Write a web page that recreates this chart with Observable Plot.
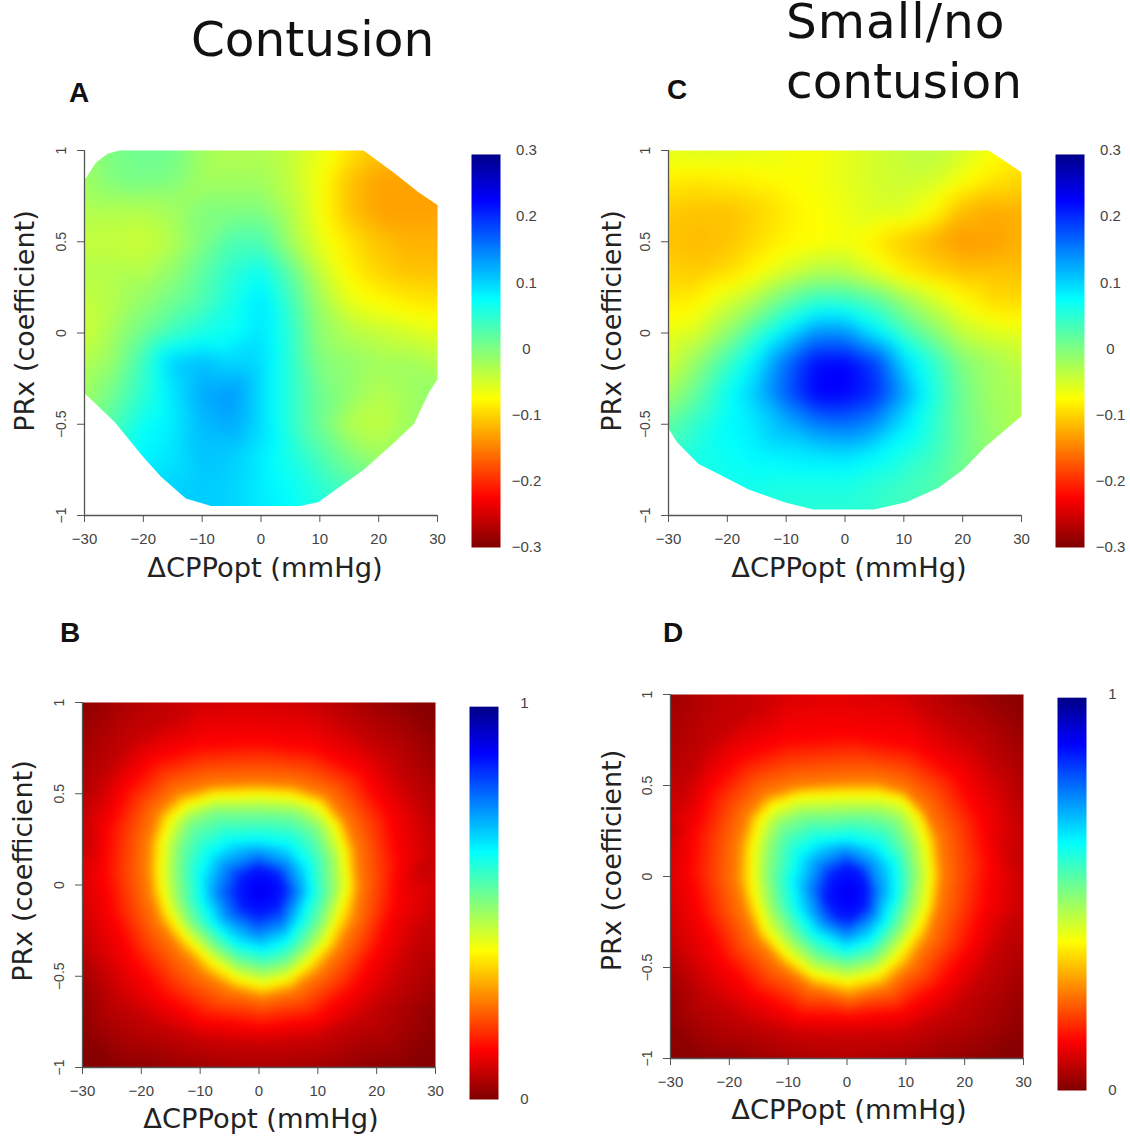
<!DOCTYPE html>
<html><head><meta charset="utf-8">
<script src="https://cdn.jsdelivr.net/npm/d3@7"></script>
<script src="https://cdn.jsdelivr.net/npm/@observablehq/plot@0.6"></script>
<style>
html,body{margin:0;padding:0;background:#fff}
#page{position:relative;width:1130px;height:1136px;overflow:hidden;background:#fff}
.title{position:absolute;font:48.5px/1 "DejaVu Sans";color:#111;white-space:nowrap}
.tag{position:absolute;font:bold 28px/1 "Liberation Sans";color:#111}
#page svg{position:absolute;overflow:visible}
</style></head><body><div id="page"></div>
<script>
const cppGrid = [-30,-25,-20,-15,-10,-5,0,5,10,15,20,25,30];
const prxGrid = [1,0.833,0.667,0.5,0.333,0.167,0,-0.167,-0.333,-0.5,-0.667,-0.833,-1];

const valuesA = [
 [-.01,.005,.012,.008,-.02,-.03,-.03,-.04,-.06,-.09,-.11,-.12,-.12],
 [-.02,.0,.005,.0,-.02,-.02,-.02,-.04,-.07,-.11,-.13,-.13,-.13],
 [-.03,-.03,-.03,-.02,.0,.0,.0,-.03,-.07,-.11,-.13,-.13,-.13],
 [-.04,-.04,-.045,-.03,.0,.03,.03,-.02,-.06,-.09,-.11,-.12,-.12],
 [-.03,-.03,-.03,-.01,.02,.05,.07,.02,-.04,-.08,-.10,-.11,-.11],
 [-.04,-.03,-.01,.01,.03,.06,.09,.04,-.02,-.06,-.075,-.085,-.09],
 [-.045,-.02,.01,.04,.06,.07,.09,.05,-.01,-.03,-.04,-.05,-.06],
 [-.03,-.01,.04,.105,.115,.10,.095,.05,.0,-.01,-.02,-.02,-.03],
 [-.02,.01,.05,.09,.125,.135,.095,.05,.01,-.01,-.03,-.02,-.01],
 [.0,.03,.07,.085,.115,.125,.095,.05,.01,-.03,-.04,-.02,.0],
 [.02,.05,.08,.09,.11,.105,.085,.06,.03,.0,-.02,-.02,.0],
 [.04,.07,.09,.10,.105,.10,.085,.07,.05,.03,.01,.0,.0],
 [.05,.08,.09,.10,.105,.10,.085,.075,.06,.04,.02,.01,.0]
];
const valuesC = [
 [-.06,-.055,-.055,-.06,-.065,-.07,-.06,-.05,-.04,-.035,-.05,-.07,-.08],
 [-.085,-.09,-.085,-.08,-.075,-.07,-.06,-.05,-.045,-.05,-.07,-.09,-.10],
 [-.105,-.11,-.11,-.10,-.085,-.075,-.065,-.055,-.055,-.075,-.115,-.125,-.12],
 [-.11,-.115,-.11,-.095,-.08,-.075,-.07,-.085,-.105,-.12,-.135,-.13,-.12],
 [-.10,-.105,-.095,-.075,-.05,-.03,-.03,-.055,-.085,-.10,-.11,-.11,-.11],
 [-.085,-.08,-.05,-.02,.02,.05,.05,.03,-.01,-.045,-.075,-.095,-.095],
 [-.065,-.05,-.01,.04,.09,.14,.14,.09,.04,.0,-.04,-.055,-.06],
 [-.05,-.01,.04,.09,.16,.22,.225,.19,.10,.05,.0,-.02,-.04],
 [-.02,.02,.07,.11,.17,.225,.225,.20,.13,.06,.01,-.02,-.03],
 [.02,.05,.075,.09,.12,.15,.16,.14,.09,.05,.01,-.015,-.03],
 [.05,.06,.07,.08,.085,.09,.095,.08,.06,.04,.01,-.01,-.02],
 [.06,.065,.065,.065,.06,.06,.06,.05,.04,.03,.01,.0,-.01],
 [.06,.06,.06,.055,.05,.05,.05,.045,.035,.025,.01,.0,-.01]
];

// Panels B and D: isolines, one list per level, plus the frame edges
const levels = [.07,.125,.25,.375,.5,.625,.75,.85];
const ringsB = [
 [[-29,-.35],[-24,-.62],[-18,-.76],[-9,-.86],[.5,-.88],[10,-.85],[18,-.72],[23,-.55],[27,-.3],[28,.1],[27,.45],[22,.7],[15,.87],[-15,.92],[-22,.78],[-27,.55],[-29.5,.2]],
 [[-.2,.79],[-10,.77],[-17.9,.69],[-22.7,.53],[-25.7,.31],[-26.4,.07],[-25.1,-.15],[-21.5,-.41],[-16.6,-.61],[-10,-.74],[.4,-.78],[9.5,-.74],[16.2,-.57],[20.4,-.35],[23.1,-.1],[23.7,.12],[22.2,.38],[17.4,.62],[9.5,.75]],
 [[-.2,.56],[-8.1,.55],[-13.9,.5],[-17.2,.4],[-18.8,.23],[-19.1,.09],[-18.5,-.06],[-16.9,-.21],[-13.6,-.35],[-9.4,-.49],[-4.5,-.58],[.7,-.62],[5.8,-.58],[10.1,-.48],[13.7,-.34],[16.2,-.19],[17.1,-.01],[16.5,.2],[14.6,.36],[11.3,.49],[5.8,.55]],
 [[-.2,.5],[-7.5,.49],[-12.4,.44],[-15.1,.36],[-16.6,.23],[-16.8,.1],[-16.6,-.02],[-15.4,-.15],[-12.4,-.29],[-8.1,-.42],[-3.9,-.51],[.4,-.55],[4.6,-.52],[8.3,-.43],[11.6,-.31],[13.7,-.16],[15.2,-.01],[14.6,.18],[13.1,.32],[10.1,.44],[5.2,.49]],
 [[-.2,.4],[-7.5,.4],[-11.8,.34],[-13.6,.21],[-13.9,.07],[-13.3,-.08],[-11.5,-.21],[-7.5,-.34],[-3.3,-.43],[.7,-.46],[4.6,-.43],[7.7,-.34],[10.4,-.21],[12.2,-.04],[11.9,.14],[9.8,.31],[5.8,.39]],
 [[-.2,.25],[-5.1,.24],[-8.4,.17],[-10,.05],[-9.7,-.08],[-7.8,-.21],[-3.9,-.32],[.7,-.36],[4.6,-.31],[7,-.2],[8.9,-.04],[8.3,.1],[5.2,.22]],
 [[-.2,.16],[-5.4,.09],[-6.9,-.04],[-5.1,-.17],[-.2,-.26],[4,-.21],[6.4,-.04],[4.6,.1]],
 [[-.2,.09],[-2.7,.05],[-3.6,-.04],[-2.7,-.12],[.1,-.16],[3.1,-.12],[4.3,-.02],[2.8,.06]]
];
const peakB = [.4,-.03,.89];
const topB = [.015,.035,.055,.07,.08,.085,.085,.08,.07,.05,.03,.015,.005];
const bottomB = [.005,.01,.015,.025,.03,.04,.045,.04,.035,.025,.015,.01,.005];
const leftB = [.03,.04,.05,.07,.085,.09,.08,.06,.035,.02,.01];
const rightB = [.015,.03,.05,.06,.07,.08,.07,.06,.04,.02,.01];

const ringsD = [
 [[-29,-.4],[-24,-.65],[-17,-.79],[-8,-.88],[.5,-.89],[10,-.87],[18,-.74],[23,-.55],[27,-.3],[28.5,.1],[27,.5],[22,.72],[15,.89],[-16,.93],[-23,.75],[-27.5,.5],[-29.5,.25]],
 [[0,.78],[-10.6,.75],[-18.5,.65],[-23.3,.48],[-26,.24],[-26.7,.02],[-25.1,-.2],[-21.5,-.45],[-16,-.64],[-8.1,-.77],[.4,-.78],[9.5,-.75],[16.2,-.6],[21,-.38],[23.4,-.16],[24.3,.06],[22.8,.32],[18.6,.56],[11.3,.72]],
 [[0,.52],[-8.7,.5],[-13.9,.45],[-16.9,.34],[-18.5,.17],[-18.8,-.01],[-17.5,-.18],[-15.4,-.34],[-11.2,-.49],[-5.7,-.61],[.4,-.66],[6.4,-.61],[10.7,-.49],[13.7,-.34],[15.5,-.16],[16.2,.01],[15.5,.21],[13.1,.37],[9.5,.48],[5.2,.52]],
 [[0,.45],[-8.1,.44],[-12.4,.39],[-14.8,.31],[-16,.17],[-16.2,.01],[-15.7,-.12],[-13.9,-.29],[-10.6,-.42],[-5.7,-.54],[0,-.58],[5.2,-.54],[8.9,-.43],[11.9,-.29],[13.7,-.16],[14.3,.01],[13.7,.17],[12.2,.32],[9.5,.42],[5.2,.45]],
 [[0,.34],[-7.5,.33],[-11.2,.28],[-12.7,.17],[-13.3,.01],[-12.4,-.16],[-9.7,-.31],[-5.1,-.45],[0,-.49],[4.6,-.45],[7.7,-.34],[10.4,-.16],[11.3,.01],[10.4,.17],[8.3,.3],[4.6,.34]],
 [[0,.21],[-5.1,.19],[-8.1,.12],[-9.4,-.03],[-8.4,-.18],[-5.7,-.31],[-.2,-.4],[4,-.35],[6.4,-.25],[8.3,-.1],[8,.06],[5.2,.17]],
 [[-.2,.13],[-4.5,.06],[-6,-.07],[-4.8,-.2],[-.2,-.31],[3.4,-.24],[5.2,-.09],[3.7,.06]],
 [[-.2,.05],[-2.7,0],[-3.6,-.12],[-1.8,-.21],[.7,-.23],[3.1,-.16],[3.4,-.05],[1.9,.03]]
];
const peakD = [.2,-.1,.89];
const topD = [.03,.05,.065,.08,.09,.095,.095,.09,.08,.06,.04,.02,.01];
const bottomD = [.01,.015,.02,.03,.04,.05,.055,.05,.04,.03,.02,.01,.005];
const leftD = [.04,.05,.065,.08,.085,.09,.085,.07,.045,.025,.015];
const rightD = [.02,.035,.045,.06,.065,.07,.07,.06,.04,.025,.015];

// Edges of the sampled region (outside them the surface is not drawn)
const upperA = [[-30,.83],[-28,.93],[-26,.98],[-23.7,1],[17.4,1],[22.5,.88],[26.8,.77],[30,.70]];
const lowerA = [[-30,-.33],[-24.8,-.49],[-20,-.68],[-16.9,-.79],[-12.7,-.91],[-8.4,-.95],[6.7,-.95],[9.8,-.93],[17.6,-.75],[22.5,-.61],[26.1,-.5],[28.6,-.33],[30,-.26]];
const upperC = [[-30,1],[24.4,1],[27.7,.93],[30,.88]];
const lowerC = [[-30,-.52],[-28.5,-.6],[-24.8,-.72],[-20.5,-.79],[-16.3,-.86],[-10.2,-.93],[-5.3,-.97],[5,-.97],[10.5,-.93],[16,-.85],[20.2,-.75],[23.8,-.63],[30,-.46]];

const jetStops = [0,.125,.375,.5,.625,.875,1];
const jetColors = ["#7f0000","#ff0000","#ffff00","#80ff80","#00ffff","#0000ff","#00007f"];
const xTicks = [-30,-20,-10,0,10,20,30];
const yTicks = [-1,-.5,0,.5,1];
const diffTicks = [-.3,-.2,-.1,0,.1,.2,.3];
const probTicks = [0,1];
const xLabel = "ΔCPPopt (mmHg)";
const yLabel = "PRx (coefficient)";
const titles = [["Contusion",191,15,0],["Small/no",786,-3,1],["contusion",786,57,0]];
const tags = [["A",69,79],["B",60,619],["C",667,76],["D",663,619]];

const minus = d => String(d).replace("-", "\u2212");
const page = document.getElementById("page");

function gridPts(grid){
  const out = [];
  grid.forEach((row,j)=>row.forEach((v,i)=>out.push({x:cppGrid[i],y:prxGrid[j],v})));
  return out;
}
function ringPts(rings,peak,top,bottom,left,right){
  const out = [];
  rings.forEach((r,k)=>r.forEach(([x,y])=>out.push({x,y,v:levels[k]})));
  out.push({x:peak[0],y:peak[1],v:peak[2]});
  cppGrid.forEach((x,i)=>{out.push({x,y:1,v:top[i]});out.push({x,y:-1,v:bottom[i]});});
  prxGrid.slice(1,-1).forEach((y,j)=>{out.push({x:-30,y,v:left[j]});out.push({x:30,y,v:right[j]});});
  return out;
}
function scaleFor(lo,hi){
  return {type:"linear",domain:jetStops.map(t=>lo+(hi-lo)*t),range:jetColors,clamp:true};
}
const M = {l:70,r:10,t:10,b:70};

function panel(o){
  const marks = [
    Plot.raster(o.points,{x:"x",y:"y",fill:"v",interpolate:"barycentric",pixelSize:1,blur:o.blur,
      x1:-30,x2:30,y1:-1,y2:1})
  ];
  const widen = e => [[-31,e[0][1]],...e,[31,e[e.length-1][1]]];
  if(o.upper) marks.push(Plot.areaY(widen(o.upper),{x:d=>d[0],y1:d=>d[1],y2:()=>1.02,fill:"white"}));
  if(o.lower) marks.push(Plot.areaY(widen(o.lower),{x:d=>d[0],y1:d=>d[1],y2:()=>-1,fill:"white"}));
  marks.push(
    Plot.ruleY([-1],{stroke:"#555",strokeWidth:1.3}),
    Plot.ruleX([-30],{stroke:"#555",strokeWidth:1.3}),
    Plot.axisX({ticks:xTicks,tickFormat:minus,tickSize:7,tickPadding:11,fontSize:15,stroke:"#555",fill:"#444",label:null}),
    Plot.axisY({ticks:yTicks,tickFormat:minus,tickSize:7,tickPadding:12,fontSize:14,tickRotate:-90,stroke:"#555",fill:"#444",label:null}),
    Plot.text([xLabel],{frameAnchor:"bottom",lineAnchor:"middle",dy:o.xdy,dx:o.xdx,fontSize:27.3,fontFamily:"DejaVu Sans",fill:"#222"}),
    Plot.text([yLabel],{frameAnchor:"left",textAnchor:"middle",rotate:-90,lineAnchor:"middle",dx:o.ydx,dy:o.ydy,fontSize:27,fontFamily:"DejaVu Sans",fill:"#222"})
  );
  const svg = Plot.plot({
    width:353+M.l+M.r,height:o.h+M.t+M.b,
    marginLeft:M.l,marginRight:M.r,marginTop:M.t,marginBottom:M.b,
    x:{domain:[-30,30]},y:{domain:[-1,1]},
    color:scaleFor(o.lo,o.hi),
    style:{fontFamily:"Liberation Sans",background:"transparent",overflow:"visible"},
    marks
  });
  svg.style.left=(o.x-M.l)+"px"; svg.style.top=(o.y-M.t)+"px";
  page.appendChild(svg);

  const bar = Plot.plot({
    width:29+50,height:o.barH+20,marginLeft:0,marginRight:50,marginTop:10,marginBottom:10,
    x:{domain:[0,1],axis:null},y:{domain:[o.lo,o.hi]},
    color:scaleFor(o.lo,o.hi),
    style:{fontFamily:"Liberation Sans",background:"transparent",overflow:"visible"},
    marks:[
      Plot.raster({x1:0,x2:1,y1:o.lo,y2:o.barTop,width:1,height:o.barH,fill:(x,y)=>y,pixelSize:1}),
      Plot.axisY({anchor:"right",ticks:o.ticks,tickFormat:minus,tickSize:0,tickPadding:26,textAnchor:"middle",fontSize:15,fill:"#444",label:null})
    ]
  });
  bar.style.left=o.barX+"px"; bar.style.top=(o.barY-10)+"px";
  page.appendChild(bar);
}

panel({points:gridPts(valuesA),upper:upperA,lower:lowerA,lo:-.3,hi:.3,x:84,y:150,h:365,blur:6,barX:471,barY:150,barH:397,barTop:.294,ticks:diffTicks,xdy:53,xdx:4,ydx:-59,ydy:-12});
panel({points:gridPts(valuesC),upper:upperC,lower:lowerC,lo:-.3,hi:.3,x:668,y:150,h:365,blur:6,barX:1055,barY:150,barH:397,barTop:.294,ticks:diffTicks,xdy:53,xdx:4,ydx:-56,ydy:-12});
panel({points:ringPts(ringsB,peakB,topB,bottomB,leftB,rightB),lo:0,hi:1,x:82,y:702,h:365,blur:3,barX:469,barY:703,barH:396,barTop:.992,ticks:probTicks,xdy:52,xdx:2,ydx:-59,ydy:-14});
panel({points:ringPts(ringsD,peakD,topD,bottomD,leftD,rightD),lo:0,hi:1,x:670,y:694,h:364,blur:3,barX:1057,barY:694,barH:396,barTop:.992,ticks:probTicks,xdy:52,xdx:2,ydx:-58,ydy:-16});

titles.forEach(([t,x,y,ls])=>{const d=document.createElement("div");d.className="title";d.textContent=t;d.style.left=x+"px";d.style.top=y+"px";d.style.letterSpacing=ls+"px";page.appendChild(d);});
tags.forEach(([t,x,y])=>{const d=document.createElement("div");d.className="tag";d.textContent=t;d.style.left=x+"px";d.style.top=y+"px";page.appendChild(d);});
</script></body></html>
